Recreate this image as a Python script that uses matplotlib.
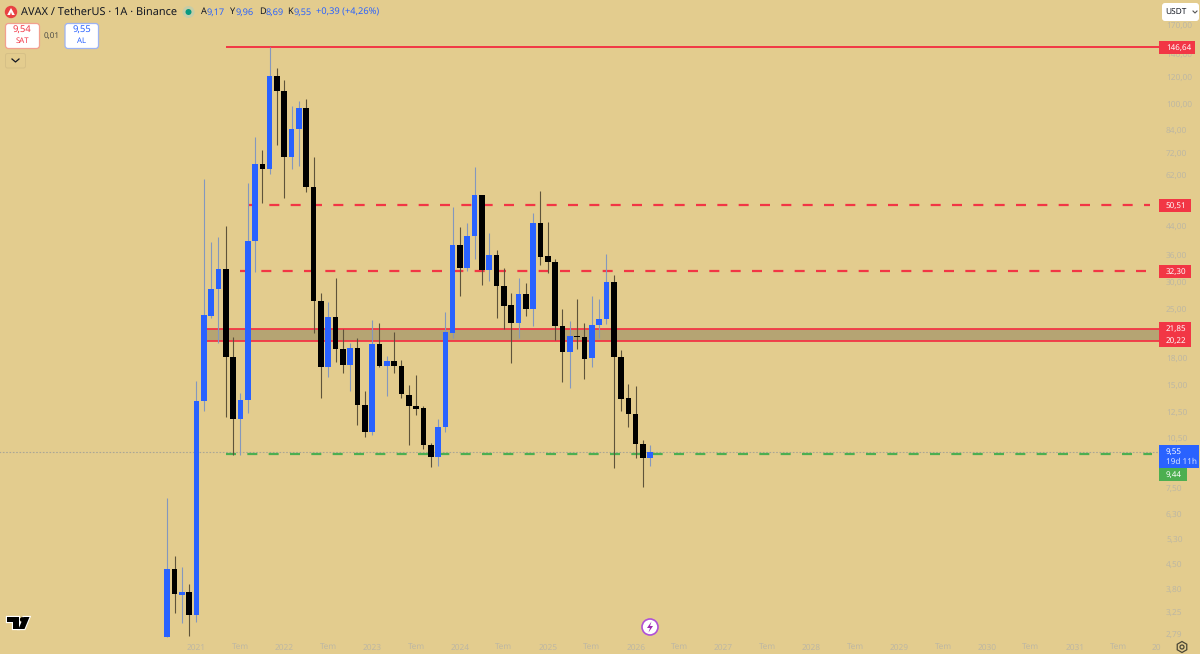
import matplotlib
matplotlib.use('Agg')
import matplotlib.pyplot as plt
from matplotlib.patches import Rectangle, FancyBboxPatch, Circle, Polygon, RegularPolygon

plt.rcParams['font.family'] = ['Noto Sans', 'DejaVu Sans']
plt.rcParams['text.hinting'] = 'no_hinting'
plt.rcParams['text.hinting_factor'] = 1

# monthly candles, AVAXUSDT, first one is Sep 2020
opens = [2.74, 4.33, 3.63, 3.71, 3.18, 13.45, 23.92, 28.71, 32.79, 18.14, 11.94, 13.55, 39.52, 66.59, 64.51, 120.33, 108.97,
         69.67, 84.15, 97.16, 56.90, 26.42, 16.96, 23.76, 19.15, 17.15, 19.28, 13.12, 10.92, 19.77, 17.04, 17.66, 17.04,
         14.04, 13.03, 12.81, 10.00, 9.22, 11.29, 21.33, 38.55, 33.07, 40.88, 54.02, 32.57, 36.03, 29.29, 25.66, 22.77,
         27.64, 24.98, 44.72, 35.72, 34.30, 22.36, 18.73, 20.90, 20.72, 17.98, 22.42, 23.35, 30.03, 18.14, 13.70, 12.30,
         10.09, 9.18]
highs = [7.01, 4.73, 4.40, 3.91, 15.40, 60.06, 39.26, 40.69, 43.82, 20.68, 14.17, 58.69, 79.73, 73.18, 146.64, 127.01, 117.37,
         98.68, 101.86, 103.24, 69.67, 27.83, 26.29, 30.85, 21.87, 19.86, 20.62, 14.39, 23.24, 22.73, 18.23, 21.48, 17.74,
         14.96, 16.00, 13.01, 10.15, 11.89, 24.58, 49.82, 43.44, 44.63, 65.38, 54.02, 41.72, 37.20, 33.01, 27.94, 30.79,
         29.89, 47.94, 55.61, 45.02, 35.07, 25.08, 23.04, 26.72, 22.73, 27.33, 26.72, 36.20, 31.49, 18.98, 15.09, 14.92,
         10.34, 10.00]
lows = [2.74, 3.21, 3.01, 2.76, 3.03, 12.58, 23.51, 19.86, 12.10, 9.35, 9.35, 12.38, 32.19, 51.08, 62.12, 75.54, 52.94,
        64.38, 65.69, 55.01, 21.33, 13.73, 15.85, 17.54, 16.22, 14.42, 11.44, 10.57, 10.70, 16.89, 13.94, 16.29, 13.70,
        10.02, 12.27, 9.71, 8.62, 8.68, 10.89, 20.62, 27.27, 32.28, 35.00, 29.37, 30.30, 23.60, 21.83, 17.35, 20.54,
        23.88, 22.36, 33.61, 31.85, 20.27, 15.33, 14.69, 19.11, 15.64, 16.96, 20.58, 22.67, 8.54, 12.60, 11.31, 9.18,
        7.55, 8.69]
closes = [4.33, 3.65, 3.71, 3.18, 13.45, 23.99, 28.71, 32.79, 18.07, 11.94, 13.55, 39.52, 66.59, 64.38, 120.33, 108.97, 69.67,
          84.15, 97.16, 56.90, 26.42, 16.96, 23.76, 19.15, 17.15, 19.28, 13.12, 10.92, 19.77, 17.04, 17.66, 17.04, 14.11,
          13.01, 12.77, 9.98, 9.22, 11.29, 21.39, 38.55, 33.07, 40.96, 54.02, 32.57, 35.96, 29.29, 25.59, 22.77, 27.64,
          24.98, 44.72, 35.62, 34.30, 22.36, 18.73, 20.86, 20.72, 17.90, 22.42, 23.35, 30.03, 18.14, 13.66, 12.30, 10.09,
          9.14, 9.54]

price_ticks = [170, 140, 120, 100, 84, 72, 62, 50, 44, 36, 30, 25, 18, 15, 12.5, 10.5, 7.5, 6.3, 5.3, 4.5, 3.8, 3.25, 2.79]
time_ticks = [4, 10, 16, 22, 28, 34, 40, 46, 52, 58, 64, 70, 76, 82, 88, 94, 100, 106, 112, 118, 124, 130, 135.1]
time_labels = ['2021', 'Tem', '2022', 'Tem', '2023', 'Tem', '2024', 'Tem', '2025', 'Tem', '2026', 'Tem', '2027', 'Tem',
               '2028', 'Tem', '2029', 'Tem', '2030', 'Tem', '2031', 'Tem', '20']

top_line = 146.64
dashed_lines = [50.51, 32.30]
zone_top = 21.85
zone_bottom = 20.22
support = 9.44
last_price = 9.55

BG = '#E3CC8E'
BLUE = '#2962FF'
RED = '#F23645'
GREEN = '#4CAF50'
GREY_TEXT = '#BDB7A3'
DARK = '#131722'
END = 135.5  # where the scale starts


def tr(v, digits=2):
    return f'{v:.{digits}f}'.replace('.', ',')


fig = plt.figure(figsize=(12, 6.54), dpi=100, facecolor=BG)
ax = fig.add_axes([0, 0, 1, 1], facecolor=BG)

x = list(range(len(opens)))
ax.set_yscale('log')
ax.set_xlim(-22.84, 141.1)
ax.set_ylim(2.44, 201.4)

up = [c >= o for o, c in zip(opens, closes)]
colors = [BLUE if u else '#000000' for u in up]
wick_colors = ['#8497BE' if u else '#5E533A' for u in up]
ax.vlines(x, lows, highs, colors=wick_colors, linewidth=0.8, zorder=3)
bottoms = [min(o, c) for o, c in zip(opens, closes)]
heights = [abs(o - c) for o, c in zip(opens, closes)]
ax.bar(x, heights, bottom=bottoms, width=0.77, color=colors, linewidth=0, zorder=4)

# drawings
ax.hlines(top_line, 8, END, color=RED, linewidth=1.4, zorder=2)
dash = (0, (4.5, 5.1))
ax.hlines(dashed_lines[0], 11, END - 1.2, color=RED, linewidth=1.6, linestyles=[dash], zorder=2)
ax.hlines(dashed_lines[1], 10, END - 0.6, color=RED, linewidth=1.6, linestyles=[dash], zorder=2)
ax.fill_between([5.3, END], zone_bottom, zone_top, color='#B5A473', linewidth=0, zorder=1)
ax.hlines([zone_top, zone_bottom], 5.3, END, color=RED, linewidth=1.3, zorder=2)
ax.hlines(last_price, -23, END, color='#A9A696', linewidth=0.8, linestyles=[(0, (1.5, 1.5))], zorder=1.5)
ax.hlines(support, 8.05, END - 1, color=GREEN, linewidth=1.6, linestyles=[dash], zorder=2)

ax.set_yticks(price_ticks)
ax.set_yticklabels([tr(p) for p in price_ticks], fontsize=6.0, color=GREY_TEXT)
ax.yaxis.set_minor_locator(plt.NullLocator())
ax.yaxis.tick_right()
ax.tick_params(axis='y', which='both', length=0, direction='in', pad=-24.5)
ax.set_xticks(time_ticks)
ax.set_xticklabels(time_labels, fontsize=6.0, color=GREY_TEXT)
ax.tick_params(axis='x', length=0, direction='in', pad=-7.7)
for s in ax.spines.values():
    s.set_visible(False)

# everything else sits on a pixel overlay
ov = fig.add_axes([0, 0, 1, 1], facecolor='none', zorder=5)
ov.set_xlim(0, 1200)
ov.set_ylim(654, 0)
ov.axis('off')


def badge(y0, y1, x1, color, label):
    ov.add_patch(Rectangle((1159, y0), x1 - 1159, y1 - y0, color=color, linewidth=0))
    ov.text(1166, (y0 + y1) / 2, label, color='white', fontsize=5.8, va='center', ha='left', fontweight='bold')


badge(41, 54, 1195, RED, tr(top_line))
badge(199, 212, 1191, RED, tr(dashed_lines[0]))
badge(265, 278, 1191, RED, tr(dashed_lines[1]))
badge(322, 335, 1191, RED, tr(zone_top))
badge(334.5, 347, 1191, RED, tr(zone_bottom))
ov.add_patch(Rectangle((1159, 445), 40, 23, color=BLUE, linewidth=0))
ov.text(1166, 451.5, tr(last_price), color='white', fontsize=5.8, va='center', fontweight='bold')
ov.text(1166, 462, '19d 11h', color='#DCE6FF', fontsize=5.9, va='center')
badge(468, 481, 1186.5, GREEN, tr(support))

# currency button
ov.add_patch(FancyBboxPatch((1164, 5), 33, 14, boxstyle='round,pad=2,rounding_size=3', fc='white', ec='none'))
ov.text(1165, 12, 'USDT', color=DARK, fontsize=6, va='center', fontweight='medium')
ov.plot([1193, 1195, 1197], [11, 13, 11], color='#555555', linewidth=0.8)

# header
ov.add_patch(Circle((11, 12), 6.2, color='#E84142', linewidth=0))
ov.add_patch(Polygon([(11, 8), (14.8, 15), (7.2, 15)], color='white', linewidth=0))
ov.add_patch(Polygon([(10, 15.2), (12, 15.2), (11, 12)], color='#E84142', linewidth=0))
ov.text(21, 12, 'AVAX / TetherUS · 1A · Binance', color=DARK, fontsize=7.9, va='center')
ov.add_patch(Circle((188.5, 12), 6, color='#C5CDA8', linewidth=0))
ov.add_patch(Circle((188.5, 12), 3, color='#089981', linewidth=0))

for px, letter, off, val in [(201, 'A', 6, '9,17'), (230, 'Y', 6, '9,96'), (259, 'D', 7, '8,69'), (287.5, 'K', 6.5, '9,55')]:
    ov.text(px, 12, letter, color=DARK, fontsize=6.6, va='center')
    ov.text(px + off, 12, val, color=BLUE, fontsize=6.6, va='center')
ov.text(316.5, 12, '+0,39 (+4,26%)', color=BLUE, fontsize=6.7, va='center')

# buy / sell boxes
ov.add_patch(FancyBboxPatch((7, 25), 31, 22, boxstyle='round,pad=1.5,rounding_size=3', fc='white', ec='#F2A08F', lw=0.9))
ov.text(22, 30.5, '9,54', color=RED, fontsize=6.8, ha='center', va='center')
ov.text(22, 40.5, 'SAT', color=RED, fontsize=5.6, ha='center', va='center')
ov.text(52, 36, '0,01', color='#4A4A45', fontsize=5.8, ha='center', va='center')
ov.add_patch(FancyBboxPatch((66.5, 25), 30.5, 22, boxstyle='round,pad=1.5,rounding_size=3', fc='white', ec='#9DB3F2', lw=0.9))
ov.text(82, 30.5, '9,55', color=BLUE, fontsize=6.8, ha='center', va='center')
ov.text(82, 40.5, 'AL', color=BLUE, fontsize=5.6, ha='center', va='center')
ov.add_patch(FancyBboxPatch((5.5, 53.5), 20, 14.5, boxstyle='round,pad=0,rounding_size=2', fc='none', ec='#D6C087', lw=0.7))
ov.plot([12, 15.5, 19], [59, 62, 59], color=DARK, linewidth=0.9)

# tradingview mark
t_mark = [(7, 617), (19, 617), (19, 629), (13, 629), (13, 622), (7, 622)]
seven = [(23.5, 617), (29.5, 617), (24.5, 629), (18.5, 629)]
ov.add_patch(Polygon(t_mark, fc='black', ec='white', lw=1.6))
ov.add_patch(Polygon(seven, fc='black', ec='white', lw=1.6))
ov.add_patch(Polygon(t_mark, fc='black', ec='none'))
ov.add_patch(Polygon(seven, fc='black', ec='none'))
ov.add_patch(Circle((22.3, 619.5), 2.4, color='black', linewidth=0))

# lightning mark
ov.add_patch(Circle((650, 627), 8, fc='white', ec='#B050D8', lw=1.2))
ov.add_patch(Polygon([(651.5, 621.5), (647, 628), (650, 628), (648.5, 632.5), (653, 626), (650, 626)], color='#9C27B0', linewidth=0))

# settings
ov.add_patch(RegularPolygon((1182, 647), 6, radius=5.5, fc='none', ec='#4A4636', lw=0.9))
ov.add_patch(Circle((1182, 647), 2, fc='none', ec='#4A4636', lw=0.9))

fig.savefig('out.png', dpi=100, facecolor=BG)
